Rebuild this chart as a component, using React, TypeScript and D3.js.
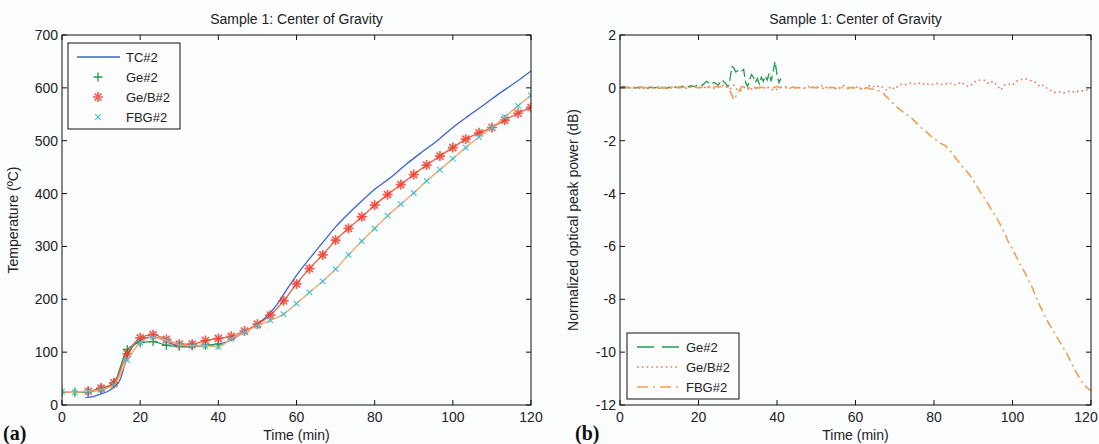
import React from "react";
import * as d3 from "d3";

// ---- panel (a): temperature (ºC) vs time (min)
const tcTime = [6, 8, 10, 12, 13.5, 15, 16, 17, 18, 19, 20, 22, 24, 26, 28, 30, 33, 36, 40, 43, 46, 49, 52, 55, 58, 61, 64, 67, 70, 73, 77, 80, 84, 88, 92, 96, 100, 104, 108, 112, 116, 120];
const tcTemp = [14, 16, 21, 27, 35, 50, 75, 97, 110, 118, 122, 128, 128, 123, 116, 111, 110, 112, 115, 122, 135, 148, 165, 190, 224, 255, 283, 310, 337, 360, 388, 408, 430, 455, 478, 500, 525, 547, 568, 590, 610, 632];

const geTime = [0, 3.3, 6.7, 10, 13.3, 16.7, 20, 23.3, 26.7, 30, 33.3, 36.7, 40];
const geTemp = [24, 24, 25, 30, 42, 105, 118, 120, 113, 111, 112, 113, 115];

const markTime = [0, 3.3, 6.7, 10, 13.3, 16.7, 20, 23.3, 26.7, 30, 33.3, 36.7, 40, 43.3, 46.7, 50, 53.3, 56.7, 60, 63.3, 66.7, 70, 73.3, 76.7, 80, 83.3, 86.7, 90, 93.3, 96.7, 100, 103.3, 106.7, 110, 113.3, 116.7, 120];
const gebTemp = [null, null, 26, 32, 42, 97, 127, 133, 124, 115, 115, 122, 126, 130, 140, 153, 170, 197, 229, 258, 284, 312, 334, 356, 378, 398, 417, 436, 454, 471, 487, 503, 515, 525, 539, 552, 563];
const fbgTemp = [25, 24, 26, 29, 38, 85, 118, 128, 122, 114, 112, 112, 110, 125, 138, 150, 160, 172, 192, 213, 234, 257, 284, 310, 334, 358, 380, 401, 424, 445, 466, 487, 507, 525, 545, 566, 586];

// ---- panel (b): normalized optical peak power (dB) vs time (min)
const geDbTime = [0, 1, 2, 3, 4, 5, 6, 7, 8, 9, 10, 11, 12, 13, 14, 15, 16, 17, 18, 19, 20, 21, 22, 23, 24, 25, 26, 27, 27.5, 28, 28.5, 29, 29.5, 30, 30.5, 31, 31.5, 32, 32.5, 33, 33.5, 34, 34.5, 35, 35.5, 36, 36.5, 37, 37.5, 38, 38.5, 39, 39.5, 40, 40.5, 41];
const geDb = [0.02, 0.05, 0.0, 0.04, -0.01, 0.03, 0.02, -0.02, 0.03, 0.0, 0.04, 0.01, -0.01, 0.05, 0.02, 0.03, 0.06, 0.02, 0.08, 0.05, 0.12, 0.1, 0.25, 0.15, 0.2, 0.1, 0.3, 0.15, 0.05, 0.3, 0.8, 0.75, 0.6, 0.65, 0.7, 0.65, 0.7, 0.2, 0.05, 0.3, 0.5, 0.4, 0.2, 0.35, 0.15, 0.4, 0.25, 0.45, 0.3, 0.55, 0.25, 0.6, 1.0, 0.5, 0.2, 0.35];

const gebDb = [0, 0.02, -0.03, 0.01, 0.03, -0.02, 0, 0.04, -0.01, 0.02, 0.05, 0, -0.02, 0.03, 0.01, 0.04, 0.02, -0.01, 0.03, 0.05, 0.02,
  0.04, 0.0, 0.06, -0.02, 0.03, 0.08, 0.1, -0.05, 0.1, -0.1, -0.08, 0.05, -0.1, 0.02, -0.05, 0.05, -0.03, 0.02, -0.1, -0.05,
  0.02, 0.05, 0.0, -0.03, 0.02, 0.0, -0.02, 0.05, 0.02, -0.02, 0.1, 0.05, -0.02, 0.03, -0.05, 0.0, 0.08, 0.02, -0.03, 0.05,
  0.0, -0.08, 0.05, 0.1, 0.02, 0.08, 0.02, -0.1, 0.05, -0.05, 0.1, 0.15, 0.12, 0.18, 0.15, 0.2, 0.12, 0.18, 0.1, 0.15,
  0.17, 0.12, 0.15, 0.2, 0.1, 0.15, 0.22, 0.1, 0.05, 0.2, 0.28, 0.3, 0.28, 0.15, 0.25, 0.1, -0.08, 0.1, 0.15, 0.1,
  0.25, 0.3, 0.35, 0.32, 0.25, 0.2, 0.05, 0.1, -0.05, -0.12, -0.18, -0.15, -0.2, -0.15, -0.12, -0.18, -0.1, -0.12, -0.08, -0.05];

const fbgDb = [0.02, 0, 0.03, -0.02, 0.01, 0.03, -0.01, 0.02, 0, 0.03, -0.02, 0.01, 0.02, -0.01, 0.03, 0, 0.02, 0.04, 0.01, 0.03, 0.0,
  0.02, 0.05, 0.0, 0.03, 0.06, 0.02, 0.05, -0.1, -0.45, -0.2, 0.05, 0.02, 0.0, 0.03, 0.0, 0.02, -0.02, 0.03, 0.0, 0.05,
  0.0, 0.02, -0.02, 0.03, 0.0, 0.02, 0.0, -0.02, 0.03, 0.0, 0.02, -0.03, 0.0, 0.02, -0.02, 0.01, 0.0, -0.03, 0.02, 0.0,
  -0.02, 0.02, 0.0, -0.05, -0.05, -0.12, -0.2, -0.35, -0.5, -0.65, -0.78, -0.9, -1.0, -1.1, -1.25, -1.4, -1.55, -1.66, -1.8, -1.92,
  -2.02, -2.12, -2.2, -2.35, -2.55, -2.75, -2.95, -3.1, -3.28, -3.5, -3.75, -4.0, -4.2, -4.45, -4.7, -4.92, -5.2, -5.5, -5.85, -6.1,
  -6.4, -6.7, -6.95, -7.25, -7.55, -7.9, -8.25, -8.55, -8.85, -9.1, -9.35, -9.6, -9.85, -10.1, -10.4, -10.7, -10.95, -11.2, -11.35, -11.45];

const xTicks = [0, 20, 40, 60, 80, 100, 120];
const tempTicks = [0, 100, 200, 300, 400, 500, 600, 700];
const dbTicks = [-12, -10, -8, -6, -4, -2, 0, 2];

const W = 1099, H = 444;
const TOP = 35, BOT = 405;
const FONT = "'Liberation Sans', Arial, sans-serif";

const C = {
  tc: "#3d63cc",
  ge: "#1f9a4e",
  gebLine: "#f05a3a",
  gebMark: "#f03626",
  fbgLine: "#f0aa6c",
  fbgMark: "#3cc0d8",
  gebDb: "#f07a50",
  fbgDb: "#f0a050",
};

type Pt = [number, number];

function Frame({ x, y, xt, yt, title, ylabel, ylx }: any) {
  const [x0, x1] = x.range();
  const tick = 5;
  return (
    <g fontFamily={FONT} fontSize={14} fill="#222">
      <rect x={x0} y={TOP} width={x1 - x0} height={BOT - TOP} fill="none" stroke="#111" strokeWidth={1} />
      {xt.map((t: number) => (
        <g key={"x" + t}>
          <line x1={x(t)} x2={x(t)} y1={BOT} y2={BOT - tick} stroke="#111" />
          <line x1={x(t)} x2={x(t)} y1={TOP} y2={TOP + tick} stroke="#111" />
          <text x={Math.min(x(t), W - 13)} y={422} textAnchor="middle">{t}</text>
        </g>
      ))}
      {yt.map((v: number) => (
        <g key={"y" + v}>
          <line x1={x0} x2={x0 + tick} y1={y(v)} y2={y(v)} stroke="#111" />
          <line x1={x1} x2={x1 - tick} y1={y(v)} y2={y(v)} stroke="#111" />
          <text x={x0 - 4} y={y(v) + 5} textAnchor="end">{v}</text>
        </g>
      ))}
      <text x={(x0 + x1) / 2} y={24} textAnchor="middle">{title}</text>
      <text x={(x0 + x1) / 2} y={440} textAnchor="middle">Time (min)</text>
      <text transform={`translate(${ylx},${(TOP + BOT) / 2}) rotate(-90)`} textAnchor="middle">{ylabel}</text>
    </g>
  );
}

const plus = (cx: number, cy: number, s: number) => `M${cx - s},${cy}H${cx + s}M${cx},${cy - s}V${cy + s}`;
const cross = (cx: number, cy: number, s: number) => `M${cx - s},${cy - s}L${cx + s},${cy + s}M${cx - s},${cy + s}L${cx + s},${cy - s}`;

export default function App() {
  const xa = d3.scaleLinear().domain([0, 120]).range([62, 531]);
  const ya = d3.scaleLinear().domain([0, 700]).range([BOT, TOP]);
  const xb = d3.scaleLinear().domain([0, 120]).range([620, 1091]);
  const yb = d3.scaleLinear().domain([-12, 2]).range([BOT, TOP]);

  const lineA = d3.line<Pt>().x(d => xa(d[0])).y(d => ya(d[1])).curve(d3.curveMonotoneX);
  const lineB = d3.line<Pt>().x(d => xb(d[0])).y(d => yb(d[1]));

  const tcPts: Pt[] = tcTime.map((t, i) => [t, tcTemp[i]]);
  const gePts: Pt[] = geTime.map((t, i) => [t, geTemp[i]]);
  const gebPts: Pt[] = markTime.map((t, i) => [t, gebTemp[i] as number]).filter(d => d[1] != null) as Pt[];
  const fbgPts: Pt[] = markTime.map((t, i) => [t, fbgTemp[i]]);

  const minutes = d3.range(gebDb.length);
  const geDbPts: Pt[] = geDbTime.map((t, i) => [t, geDb[i]]);
  const gebDbPts: Pt[] = minutes.map(t => [t, gebDb[t]]);
  const fbgDbPts: Pt[] = minutes.map(t => [t, fbgDb[t]]);

  const star = (cx: number, cy: number, k: string) => (
    <g key={k} stroke={C.gebMark} strokeWidth={1.7} opacity={0.8}>
      <path d={plus(cx, cy, 5)} />
      <path d={cross(cx, cy, 3.5)} />
    </g>
  );

  return (
    <svg width={W} height={H} style={{ position: "absolute", left: 0, top: 0, background: "#fcfdfe" }}>
      <defs>
        <clipPath id="clipA"><rect x={62} y={TOP} width={469} height={BOT - TOP} /></clipPath>
        <clipPath id="clipB"><rect x={620} y={TOP} width={471} height={BOT - TOP} /></clipPath>
      </defs>
      <rect width={W} height={H} fill="#fcfdfe" />

      {/* panel (a) */}
      <g clipPath="url(#clipA)" fill="none">
        <path d={lineA(tcPts) || ""} stroke={C.tc} strokeWidth={1.3} />
        <path d={lineA(gePts) || ""} stroke={C.ge} strokeWidth={1.3} />
        {gePts.map((d, i) => <path key={"g" + i} d={plus(xa(d[0]), ya(d[1]), 4.5)} stroke={C.ge} strokeWidth={1.3} />)}
        <path d={lineA(gebPts) || ""} stroke={C.gebLine} strokeWidth={1.3} />
        {gebPts.map((d, i) => star(xa(d[0]), ya(d[1]), "s" + i))}
        <path d={lineA(fbgPts) || ""} stroke={C.fbgLine} strokeWidth={1.4} />
        {fbgPts.map((d, i) => <path key={"f" + i} d={cross(xa(d[0]), ya(d[1]), 2.8)} stroke={C.fbgMark} strokeWidth={1.1} />)}
      </g>
      <Frame x={xa} y={ya} xt={xTicks} yt={tempTicks} title="Sample 1: Center of Gravity" ylabel="Temperature (ºC)" ylx={18} />

      <g fontFamily={FONT} fontSize={13} fill="#222">
        <rect x={68} y={43} width={112} height={86} fill="#fdfdfe" stroke="#111" />
        <line x1={77} x2={120} y1={57} y2={57} stroke={C.tc} strokeWidth={1.3} />
        <text x={126} y={62}>TC#2</text>
        <path d={plus(98, 77, 4.5)} stroke={C.ge} strokeWidth={1.3} />
        <text x={126} y={82}>Ge#2</text>
        {star(98, 97, "legstar")}
        <text x={126} y={102}>Ge/B#2</text>
        <path d={cross(98, 117, 2.8)} stroke={C.fbgMark} strokeWidth={1.1} />
        <text x={126} y={122}>FBG#2</text>
      </g>

      {/* panel (b) */}
      <g clipPath="url(#clipB)" fill="none">
        <path d={lineB(geDbPts) || ""} stroke={C.ge} strokeWidth={1.3} strokeDasharray="10 4" />
        <path d={lineB(gebDbPts) || ""} stroke={C.gebDb} strokeWidth={1.6} strokeDasharray="1.6 3.2" />
        <path d={lineB(fbgDbPts) || ""} stroke={C.fbgDb} strokeWidth={1.6} strokeDasharray="9 4 2 4" />
      </g>
      <Frame x={xb} y={yb} xt={xTicks} yt={dbTicks} title="Sample 1: Center of Gravity" ylabel="Normalized optical peak power (dB)" ylx={578} />

      <g fontFamily={FONT} fontSize={13} fill="#222">
        <rect x={627} y={333} width={112} height={66} fill="#fdfdfe" stroke="#111" />
        <line x1={637} x2={679} y1={347} y2={347} stroke={C.ge} strokeWidth={1.3} strokeDasharray="17 8" />
        <text x={686} y={352}>Ge#2</text>
        <line x1={637} x2={679} y1={367} y2={367} stroke={C.gebDb} strokeWidth={1.6} strokeDasharray="1.6 3.2" />
        <text x={686} y={372}>Ge/B#2</text>
        <line x1={637} x2={679} y1={387} y2={387} stroke={C.fbgDb} strokeWidth={1.6} strokeDasharray="11 5 2 5" />
        <text x={686} y={392}>FBG#2</text>
      </g>

      <text x={3} y={440} fontFamily="'Liberation Serif', 'Times New Roman', serif" fontWeight="bold" fontSize={20} fill="#111">(a)</text>
      <text x={575} y={440} fontFamily="'Liberation Serif', 'Times New Roman', serif" fontWeight="bold" fontSize={20} fill="#111">(b)</text>
    </svg>
  );
}
